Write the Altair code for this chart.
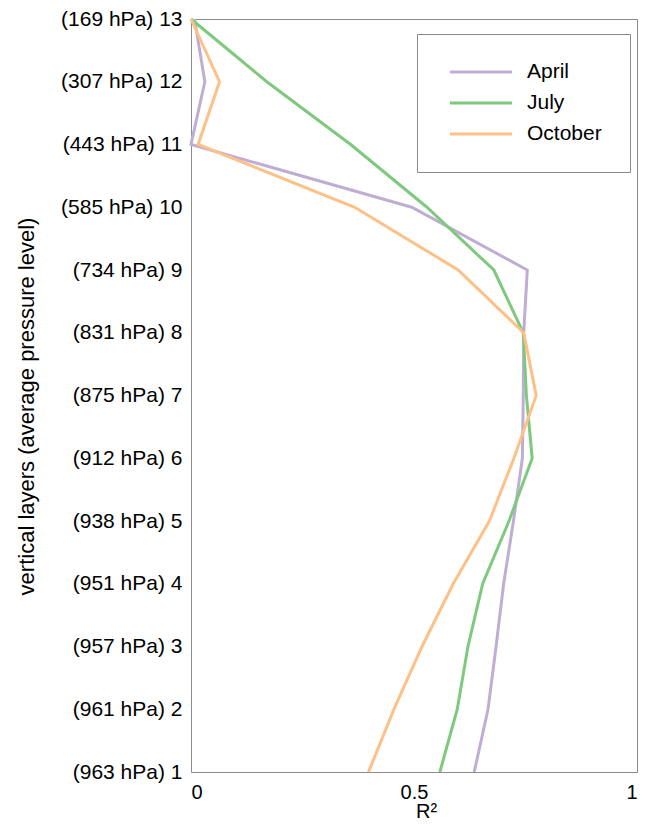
import altair as alt
import pandas as pd

layers = [1, 2, 3, 4, 5, 6, 7, 8, 9, 10, 11, 12, 13]
pressures = [963, 961, 957, 951, 938, 912, 875, 831, 734, 585, 443, 307, 169]
april = [0.635, 0.666, 0.684, 0.701, 0.723, 0.743, 0.745, 0.746, 0.754, 0.495, 0.0, 0.031, 0.008]
july = [0.558, 0.597, 0.621, 0.654, 0.713, 0.765, 0.752, 0.745, 0.679, 0.529, 0.358, 0.17, 0.0]
october = [0.398, 0.455, 0.518, 0.588, 0.669, 0.724, 0.774, 0.746, 0.599, 0.367, 0.016, 0.064, 0.0]
months = ["April", "July", "October"]
colors = ["#beaed4", "#7fc97f", "#fdc086"]
x_ticks = [0, 0.5, 1]

rows = []
for m, vals in zip(months, [april, july, october]):
    for l, v in zip(layers, vals):
        rows.append({"month": m, "layer": l, "r2": v})
df = pd.DataFrame(rows)

label_arr = "[''," + ",".join(f"'({p} hPa) {l}'" for l, p in zip(layers, pressures)) + "]"

font = "Liberation Sans"

chart = alt.Chart(df).mark_line(strokeWidth=3).encode(
    x=alt.X("r2:Q", scale=alt.Scale(domain=[0, 1], nice=False, zero=False),
            axis=alt.Axis(values=x_ticks, format="~g", title="R²", grid=False,
                          domain=False, ticks=False, tickSize=0, labelPadding=10,
                          labelFontSize=20, labelFont=font, labelColor="#000",
                          titleFont=font, titleFontSize=20, titleFontWeight="normal",
                          titleColor="#000", titleX=235, titleY=29,
                          titleBaseline="top", titleAlign="center")),
    y=alt.Y("layer:Q", scale=alt.Scale(domain=[1, 13], nice=False, zero=False),
            axis=alt.Axis(values=layers, labelExpr=label_arr + "[datum.value]",
                          title="vertical layers (average pressure level)",
                          grid=False, domain=False, ticks=False, tickSize=0,
                          labelPadding=9, labelFontSize=21, labelFont=font,
                          labelColor="#000", titleFont=font, titleFontSize=22,
                          titleFontWeight="normal", titleColor="#000",
                          titleAngle=270, titleX=-175, titleY=387,
                          titleBaseline="top", titleAlign="center")),
    color=alt.Color("month:N", sort=months,
                    scale=alt.Scale(domain=months, range=colors),
                    legend=alt.Legend(title=None, orient="none", legendX=226, legendY=15,
                                      symbolType="stroke", symbolSize=3844,
                                      symbolStrokeWidth=3, clipHeight=20, rowPadding=10,
                                      padding=28, symbolOffset=3.5, labelOffset=13.5,
                                      labelFontSize=21, labelFont=font, labelColor="#000",
                                      strokeColor="#888888", fillColor="white")),
    order=alt.Order("layer:Q"),
).properties(
    width=446, height=753,
    autosize=alt.AutoSizeParams(type="none"),
    padding={"left": 183, "top": 11, "right": 1, "bottom": 49},
).configure_view(
    stroke="#8c8c8c", strokeWidth=1
)

chart.save("out.html", embed_options={"renderer": "svg", "actions": False})
